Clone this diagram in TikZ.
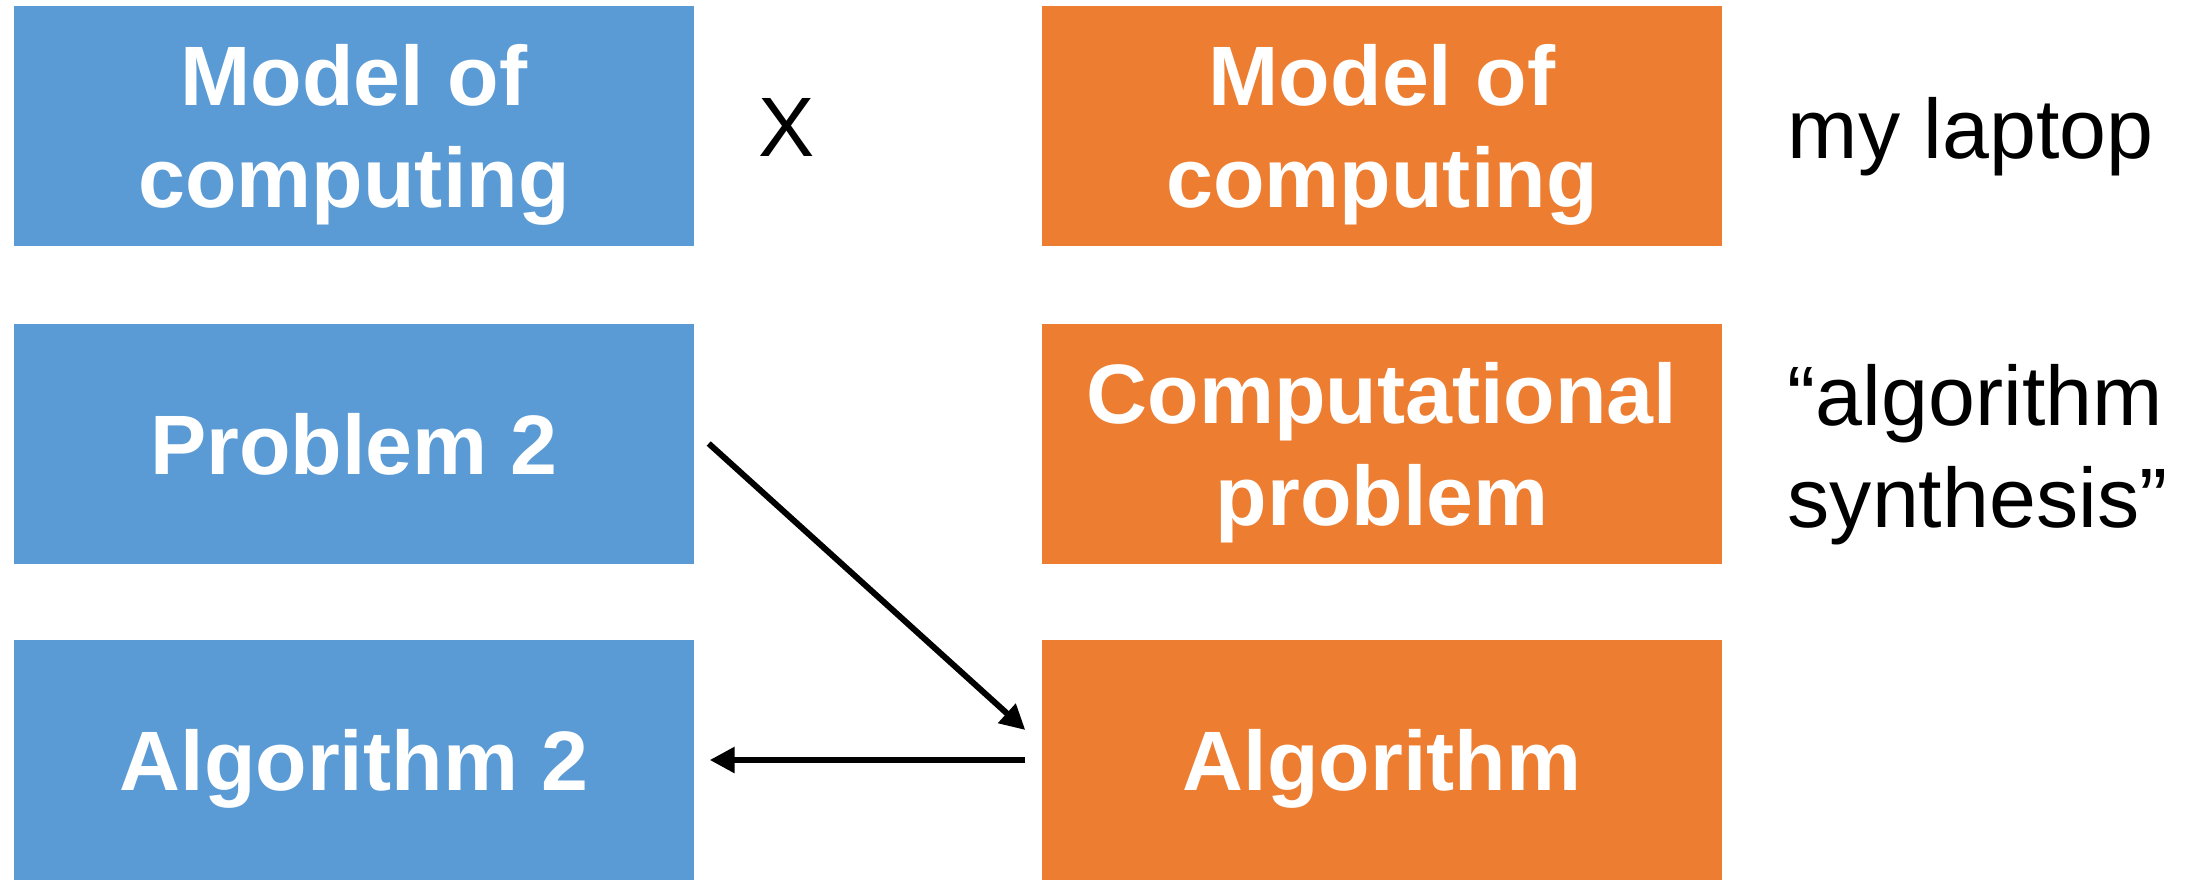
\documentclass[tikz,border=0pt]{standalone}
\usepackage{fontspec}
\setmainfont{Liberation Sans}
\usetikzlibrary{arrows.meta}
\definecolor{modelblue}{HTML}{5B9BD5}
\definecolor{modelorange}{HTML}{ED7D31}
% line strut for the box texts
\newcommand{\bxs}{\vrule height 23.2pt depth 5.8pt width 0pt}
\tikzset{
  box/.style={rectangle,minimum width=68mm,minimum height=24mm,inner sep=0pt,
    text=white,font=\bfseries\fontsize{24}{29}\selectfont,align=center},
  note/.style={inner sep=0pt,font=\fontsize{24}{29}\selectfont,align=left},
  arr/.style={line width=0.6mm,-{Triangle[length=2.5mm,width=2.5mm]}}
}
\begin{document}
\begin{tikzpicture}[x=0.1mm,y=-0.1mm]
\useasboundingbox (0,0) rectangle (2193,879);

% left column
\node[box,fill=modelblue] (m2) at (354,126) {\bxs Model of\\\bxs computing};
\node[box,fill=modelblue] (p2) at (354,443.5) {\bxs Problem 2};
\node[box,fill=modelblue] (a2) at (354,760) {\bxs Algorithm 2};

\node[note] (x) at (787,127) {X};

% right column
\node[box,fill=modelorange] (m) at (1382,126) {\bxs Model of\\\bxs computing};
\node[box,fill=modelorange] (p) at (1382,443.5) {\bxs Computational\\\bxs problem};
\node[box,fill=modelorange] (alg) at (1382,760) {\bxs Algorithm};

\node[note,anchor=base west] (lap) at (1787,158) {my laptop};
\node[note,anchor=west] (syn) at (1787,455) {“algorithm\\synthesis”};

% reduction
\draw[arr] ([xshift=1.4mm]p2.east) -- ([xshift=-1.6mm,yshift=3mm]alg.west);
\draw[arr] ([xshift=-1.6mm]alg.west) -- ([xshift=1.5mm]a2.east);
\end{tikzpicture}
\end{document}
